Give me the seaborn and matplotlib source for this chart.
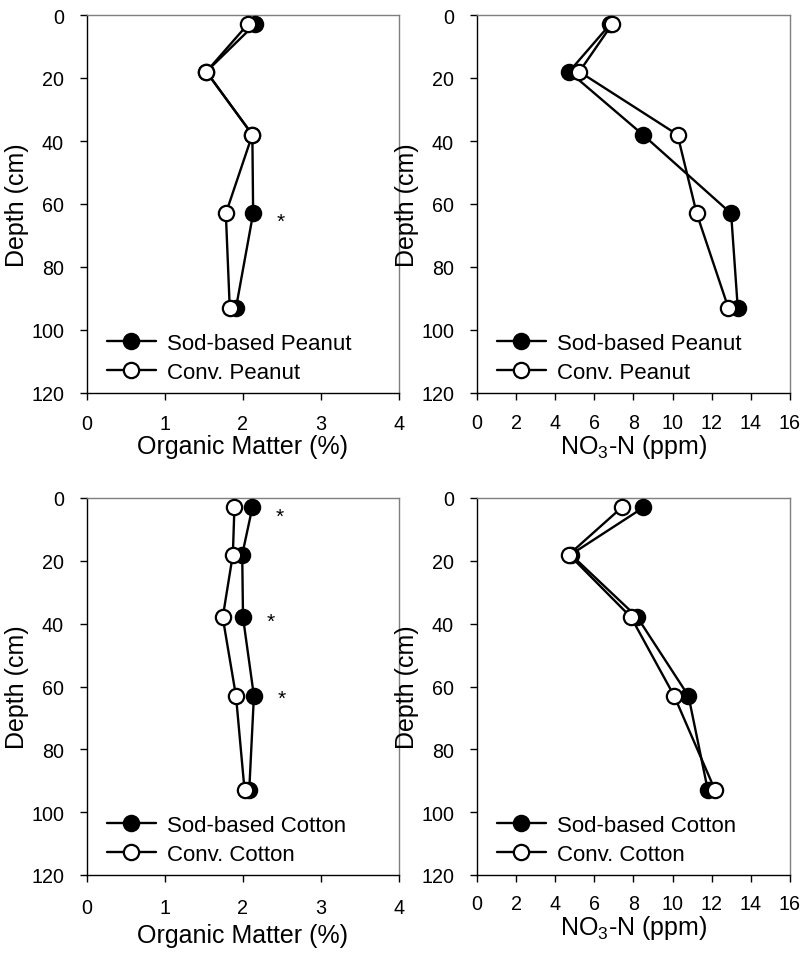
import numpy as np
import pandas as pd
import matplotlib
matplotlib.use("Agg")
import matplotlib.pyplot as plt
import seaborn as sns

sns.set_theme(style="white")
plt.rcParams['font.family'] = ['Liberation Sans', 'DejaVu Sans']
plt.rcParams['mathtext.fontset'] = 'custom'
plt.rcParams['mathtext.rm'] = 'Liberation Sans'
plt.rcParams['mathtext.it'] = 'Liberation Sans'
plt.rcParams['text.color'] = 'black'
plt.rcParams['axes.labelcolor'] = 'black'
plt.rcParams['xtick.color'] = 'black'
plt.rcParams['ytick.color'] = 'black'

depth = [3, 18, 38, 63, 93]

om_peanut_sod = [2.15, 1.53, 2.12, 2.13, 1.91]
om_peanut_conv = [2.06, 1.53, 2.12, 1.78, 1.83]
no3_peanut_sod = [6.8, 4.71, 8.48, 12.99, 13.33]
no3_peanut_conv = [6.9, 5.23, 10.25, 11.23, 12.85]

om_cotton_sod = [2.12, 1.99, 2.00, 2.14, 2.08]
om_cotton_conv = [1.89, 1.87, 1.74, 1.91, 2.02]
no3_cotton_sod = [8.51, 4.8, 8.2, 10.81, 11.8]
no3_cotton_conv = [7.4, 4.7, 7.88, 10.08, 12.17]

star_om_peanut = [(2.48, 64.2)]
star_om_cotton = [(2.47, 4.5), (2.35, 38.2), (2.49, 62.6)]

om_ticks = [0, 1, 2, 3, 4]
no3_ticks = [0, 2, 4, 6, 8, 10, 12, 14, 16]
depth_ticks = [0, 20, 40, 60, 80, 100, 120]

fig = plt.figure(figsize=(8.04, 9.54), dpi=100)
W, H = 804, 954

def make_ax(l, r, t, b):
    return fig.add_axes([l / W, 1 - b / H, (r - l) / W, (b - t) / H])

axes = [
    make_ax(87, 399, 16, 394),
    make_ax(477, 790, 16, 394),
    make_ax(87, 399, 499, 876),
    make_ax(477, 790, 499, 876),
]

# (x tick pad, x labelpad) per panel
xpads = [(10.4, 0.5), (9.2, 0.5), (11.4, 4.5), (8.5, 0.5)]

panels = [
    (om_peanut_sod, om_peanut_conv, "Sod-based Peanut", "Conv. Peanut", om_ticks, "Organic Matter (%)", star_om_peanut),
    (no3_peanut_sod, no3_peanut_conv, "Sod-based Peanut", "Conv. Peanut", no3_ticks, "NO$_3$-N (ppm)", []),
    (om_cotton_sod, om_cotton_conv, "Sod-based Cotton", "Conv. Cotton", om_ticks, "Organic Matter (%)", star_om_cotton),
    (no3_cotton_sod, no3_cotton_conv, "Sod-based Cotton", "Conv. Cotton", no3_ticks, "NO$_3$-N (ppm)", []),
]

for ax, (sod, conv, lab_sod, lab_conv, xticks, xlabel, stars), (xtp, xlp) in zip(axes, panels, xpads):
    df = pd.DataFrame({"depth": depth * 2, "val": sod + conv,
                       "group": [lab_sod] * len(depth) + [lab_conv] * len(depth)})
    sns.lineplot(data=df[df.group == lab_sod], x="val", y="depth", sort=False, ax=ax,
                 color="black", lw=1.7, marker="o", markersize=11, markerfacecolor="black",
                 markeredgecolor="black", markeredgewidth=1.6, label=lab_sod, zorder=3)
    sns.lineplot(data=df[df.group == lab_conv], x="val", y="depth", sort=False, ax=ax,
                 color="black", lw=1.7, marker="o", markersize=11, markerfacecolor="white",
                 markeredgecolor="black", markeredgewidth=1.6, label=lab_conv, zorder=4)
    for sx, sy in stars:
        ax.text(sx, sy + 1.2, "*", fontsize=15, ha="center", va="center", color="black")
    ax.set_xlim(xticks[0], xticks[-1])
    ax.set_ylim(120, 0)
    ax.set_xticks(xticks)
    ax.set_yticks(depth_ticks)
    ax.set_xlabel(xlabel, fontsize=18, labelpad=xlp)
    ax.set_ylabel("Depth (cm)", fontsize=18, labelpad=1.5)
    ax.tick_params(axis="both", which="major", labelsize=14.2, direction="out",
                   length=5, width=1, color="black", bottom=True, left=True, top=False, right=False)
    ax.tick_params(axis="y", pad=11.5)
    ax.tick_params(axis="x", pad=xtp)
    for s in ["left", "bottom"]:
        ax.spines[s].set_color("black")
        ax.spines[s].set_linewidth(1)
    for s in ["top", "right"]:
        ax.spines[s].set_color("#7f7f7f")
        ax.spines[s].set_linewidth(1)
    bw = ax.get_position().width * W
    bh = ax.get_position().height * H
    ax.legend(loc="lower left", frameon=False, fontsize=16, handlelength=2.2,
              handletextpad=0.5, borderaxespad=0, borderpad=0, labelspacing=0.36,
              bbox_to_anchor=(20 / bw, 10 / bh))
    ax.grid(False)

fig.savefig("out.png", dpi=100)
